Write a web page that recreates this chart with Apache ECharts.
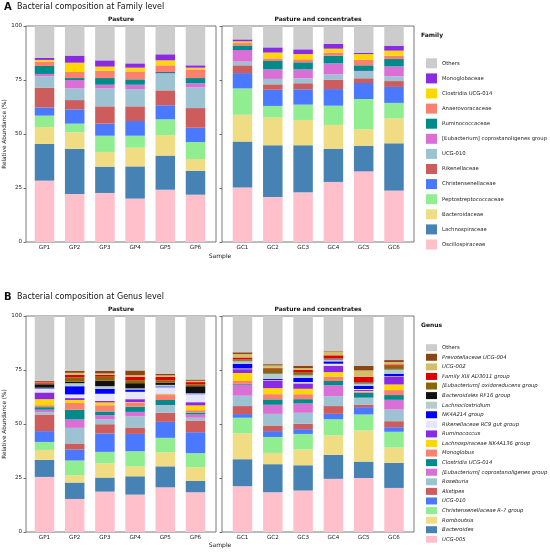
<!DOCTYPE html>
<html>
<head>
<meta charset="utf-8">
<script src="https://cdn.jsdelivr.net/npm/echarts@6/dist/echarts.min.js"></script>
</head>
<body style="margin:0">
<div id="main" style="width:550px;height:552px"></div>
<script>
// samples
var pastureSamples = ['GP1', 'GP2', 'GP3', 'GP4', 'GP5', 'GP6'];
var concSamples = ['GC1', 'GC2', 'GC3', 'GC4', 'GC5', 'GC6'];

// family level, bottom of the stack first; values GP1..GP6, GC1..GC6 (%)
var familyNames = ['Oscillospiraceae', 'Lachnospiraceae', 'Bacteroidaceae', 'Peptostreptococcaceae',
    'Christensenellaceae', 'Rikenellaceae', 'UCG-010', '[Eubacterium] coprostanoligenes group',
    'Ruminococcaceae', 'Anaerovoracaceae', 'Clostridia UCG-014', 'Monoglobaceae', 'Others'];
var familyColors = ['#ffc0cb', '#4682b4', '#f0dc82', '#90ee90', '#4a78ff', '#cd5c5c', '#9dc3d2',
    '#da70d6', '#008b8b', '#fa8072', '#ffd700', '#8a2be2', '#cccccc'];
var familyValues = [
    [28.4, 22.2, 22.7, 20.1, 24.2, 21.9, 25.2, 20.8, 23.0, 27.8, 32.7, 23.8],
    [17.0, 20.9, 12.2, 14.9, 15.8, 11.1, 21.3, 24.0, 21.8, 15.4, 11.9, 21.9],
    [7.8, 7.7, 6.8, 8.7, 9.5, 5.4, 12.4, 12.8, 11.7, 11.0, 7.6, 11.6],
    [5.3, 4.0, 7.5, 5.5, 7.3, 7.9, 12.2, 5.4, 7.1, 8.9, 14.0, 7.1],
    [3.8, 6.6, 5.6, 6.8, 6.5, 6.6, 7.1, 7.5, 7.1, 7.7, 7.4, 7.4],
    [9.2, 4.3, 8.0, 6.8, 6.9, 9.1, 3.6, 2.5, 2.8, 4.4, 2.2, 2.7],
    [5.2, 5.4, 8.3, 8.0, 7.7, 9.6, 1.7, 2.5, 2.3, 2.4, 3.1, 2.2],
    [1.1, 3.9, 1.7, 2.0, 0.3, 1.9, 5.4, 4.4, 4.1, 5.1, 0.3, 4.6],
    [3.7, 0.9, 3.1, 2.5, 0.5, 2.4, 2.1, 3.9, 3.3, 3.6, 2.6, 3.4],
    [2.0, 2.8, 3.4, 3.7, 3.1, 4.0, 1.1, 1.2, 1.4, 1.4, 2.6, 1.6],
    [0.8, 4.3, 1.9, 1.7, 2.3, 0.8, 0.8, 2.7, 2.4, 1.8, 2.6, 2.3],
    [0.9, 3.3, 2.9, 2.0, 2.8, 1.1, 0.9, 2.4, 2.2, 2.3, 0.5, 2.3],
    [14.8, 13.7, 15.9, 17.3, 13.1, 18.2, 6.2, 9.9, 10.8, 8.2, 12.5, 9.1]
];

// genus level
var genusNames = ['UCG-005', 'Bacteroides', 'Romboutsia', 'Christensenellaceae R-7 group', 'UCG-010',
    'Alistipes', 'Roseburia', '[Eubacterium] coprostanoligenes group', 'Clostridia UCG-014', 'Monoglobus',
    'Lachnospiraceae NK4A136 group', 'Ruminococcus', 'Rikenellaceae RC9 gut group', 'NK4A214 group',
    'Lachnoclostridium', 'Bacteroidales RF16 group', '[Eubacterium] oxidoreducens group',
    'Family XIII AD3011 group', 'UCG-002', 'Prevotellaceae UCG-004', 'Others'];
var genusColors = ['#ffc0cb', '#4682b4', '#f0dc82', '#90ee90', '#4a78ff', '#cd5c5c', '#9dc3d2',
    '#da70d6', '#008b8b', '#fa8072', '#ffd700', '#8a2be2', '#e6e6fa', '#0000ff', '#b4cccc',
    '#111111', '#8b6508', '#dd0000', '#d2bd6a', '#8b4513', '#cccccc'];
var genusValues = [
    [25.5, 15.3, 18.7, 17.3, 20.7, 18.4, 21.2, 18.4, 19.2, 24.6, 25.0, 20.4],
    [7.9, 7.6, 6.5, 8.5, 9.7, 5.2, 12.5, 13.0, 11.7, 11.1, 7.6, 11.6],
    [4.6, 3.4, 6.6, 4.6, 6.5, 6.4, 12.0, 5.2, 7.3, 9.0, 14.4, 7.1],
    [3.7, 6.8, 5.3, 7.0, 6.7, 6.5, 7.2, 7.4, 7.2, 7.5, 7.4, 7.3],
    [5.0, 5.1, 8.5, 8.0, 7.4, 9.7, 1.7, 2.7, 2.2, 2.5, 3.4, 2.1],
    [7.7, 2.8, 4.3, 3.0, 4.2, 5.4, 3.7, 2.6, 2.5, 3.6, 1.2, 2.8],
    [1.1, 7.2, 2.2, 5.2, 3.4, 1.3, 4.8, 5.4, 5.1, 4.6, 3.0, 5.4],
    [1.1, 3.9, 2.0, 2.0, 0.2, 1.5, 5.1, 4.2, 4.3, 5.0, 0.2, 4.5],
    [1.2, 4.5, 1.7, 2.4, 2.3, 0.9, 0.4, 2.5, 2.0, 2.0, 2.3, 2.2],
    [0.9, 3.1, 2.9, 1.8, 2.3, 1.1, 1.3, 2.4, 2.3, 2.0, 0.6, 2.3],
    [2.8, 1.4, 1.3, 0.3, 0.4, 2.2, 3.7, 2.8, 2.5, 2.1, 0.2, 2.6],
    [3.1, 0.9, 0.7, 1.4, 0.2, 1.5, 1.8, 3.6, 2.5, 3.0, 0.5, 3.6],
    [1.6, 1.7, 3.3, 3.4, 3.0, 3.7, 0.3, 0.2, 0.6, 0.9, 0.4, 0.2],
    [0.3, 3.8, 2.3, 1.1, 0.4, 0.3, 2.2, 0.5, 1.9, 1.1, 1.5, 1.2],
    [0.3, 1.4, 1.2, 0.5, 0.7, 0.2, 1.2, 2.5, 1.3, 0.9, 1.1, 2.0],
    [1.6, 0.7, 2.5, 2.4, 1.0, 3.2, 0.2, 0.2, 0.3, 0.2, 0.4, 0.2],
    [0.3, 2.0, 1.9, 1.4, 1.1, 0.8, 0.6, 2.1, 1.1, 0.3, 0.2, 1.5],
    [0.6, 1.2, 0.9, 1.6, 1.6, 1.1, 0.9, 0.3, 1.0, 1.4, 2.4, 0.6],
    [0.2, 0.9, 0.6, 0.7, 0.7, 0.6, 1.6, 1.1, 0.9, 1.8, 3.0, 1.1],
    [0.4, 1.0, 1.3, 2.2, 0.8, 0.6, 0.8, 0.6, 1.1, 0.2, 2.1, 0.9],
    [30.1, 25.3, 25.3, 25.2, 26.9, 29.4, 16.8, 22.3, 23.0, 16.2, 22.9, 20.4]
];

var FONT = 'DejaVu Sans';
var chart = echarts.init(document.getElementById('main'));

// frames (the boxes) and the plotting areas inside them
var tops = [26, 316];
var frames = [], grids = [], xAxes = [], yAxes = [];
tops.forEach(function (t) {
    frames.push({left: 26, top: t, width: 190, height: 216});
    frames.push({left: 222, top: t, width: 192, height: 216});
});
frames.forEach(function (f) {
    grids.push({left: f.left, top: f.top, width: f.width, height: f.height,
        show: true, borderColor: '#555', borderWidth: 0.8, backgroundColor: 'transparent'});
    xAxes.push({type: 'value', show: false, gridIndex: grids.length - 1});
    yAxes.push({type: 'value', show: false, gridIndex: grids.length - 1});
});
var inner = [
    {left: 29.4, width: 181.2, off: 3.4},
    {left: 227.35, width: 181.8, off: 5.35}
];
tops.forEach(function (t) {
    inner.forEach(function (g, k) {
        grids.push({left: g.left, top: t, width: g.width, height: 216});
        var gi = grids.length - 1;
        xAxes.push({
            type: 'category', gridIndex: gi,
            data: k === 0 ? pastureSamples : concSamples,
            axisLine: {show: false},
            axisTick: {alignWithLabel: true, length: 2.5, lineStyle: {color: '#333', width: 0.7}},
            axisLabel: {fontSize: 5.6, fontFamily: FONT, color: '#222', margin: 3}
        });
        yAxes.push({
            type: 'value', gridIndex: gi, min: 0, max: 100, interval: 25, offset: g.off,
            axisLine: {show: false}, splitLine: {show: false},
            axisTick: {show: true, length: 2.5, lineStyle: {color: '#333', width: 0.7}},
            axisLabel: {show: k === 0, fontSize: 5.6, fontFamily: FONT, color: '#222', margin: 4},
            name: k === 0 ? 'Relative Abundance (%)' : '',
            nameLocation: 'middle', nameGap: 15,
            nameTextStyle: {fontSize: 5.8, fontFamily: FONT, color: '#222'}
        });
    });
});

var series = [];
function addPanel(names, colors, values, axisLeft, axisRight, tag) {
    names.forEach(function (n, i) {
        series.push({name: n, type: 'bar', stack: tag + 'p', barWidth: 19.5,
            xAxisIndex: axisLeft, yAxisIndex: axisLeft,
            itemStyle: {color: colors[i]}, data: values[i].slice(0, 6)});
        series.push({name: n, type: 'bar', stack: tag + 'c', barWidth: 19.5,
            xAxisIndex: axisRight, yAxisIndex: axisRight,
            itemStyle: {color: colors[i]}, data: values[i].slice(6, 12)});
    });
}
addPanel(familyNames, familyColors, familyValues, 4, 5, 'f');
addPanel(genusNames, genusColors, genusValues, 6, 7, 'g');

function legendData(names, colors) {
    var out = [];
    for (var i = names.length - 1; i >= 0; i--) {
        out.push({name: names[i], itemStyle: {color: colors[i]}});
    }
    return out;
}

function txt(s, x, y, size, bold, align) {
    return {type: 'text', x: x, y: y, silent: true,
        style: {text: s, fontSize: size, fontFamily: FONT, fontWeight: bold ? 'bold' : 'normal',
            fill: '#111', textAlign: align || 'left', textVerticalAlign: 'middle'}};
}

var option = {
    animation: false,
    backgroundColor: '#fff',
    grid: grids,
    xAxis: xAxes,
    yAxis: yAxes,
    series: series,
    legend: [{
        orient: 'vertical', left: 421, top: 53.3, icon: 'rect', selectedMode: false,
        itemWidth: 11, itemHeight: 10, itemGap: 5.1,
        textStyle: {fontSize: 5.3, fontFamily: FONT, color: '#222', lineHeight: 10},
        data: legendData(familyNames, familyColors)
    }, {
        orient: 'vertical', left: 421, top: 339.2, icon: 'rect', selectedMode: false,
        itemWidth: 11, itemHeight: 7, itemGap: 2.58,
        textStyle: {fontSize: 5.3, fontFamily: FONT, color: '#222', lineHeight: 7,
            rich: {i: {fontStyle: 'italic', fontSize: 5.3, fontFamily: FONT, color: '#222', lineHeight: 7}}},
        formatter: function (n) { return n === 'Others' ? n : '{i|' + n + '}'; },
        data: legendData(genusNames, genusColors)
    }],
    graphic: [
        txt('A', 4, 7, 10, true),
        txt('Bacterial composition at Family level', 17, 7, 8, false),
        txt('B', 4, 297, 10, true),
        txt('Bacterial composition at Genus level', 17, 297, 8, false),
        txt('Pasture', 121, 19, 6, true, 'center'),
        txt('Pasture and concentrates', 318, 19, 6, true, 'center'),
        txt('Pasture', 121, 309, 6, true, 'center'),
        txt('Pasture and concentrates', 318, 309, 6, true, 'center'),
        txt('Sample', 220, 256, 6, false, 'center'),
        txt('Sample', 220, 545.5, 6, false, 'center'),
        txt('Family', 421, 35, 6, true),
        txt('Genus', 421, 325, 6, true)
    ]
};
chart.setOption(option);
</script>
</body>
</html>
